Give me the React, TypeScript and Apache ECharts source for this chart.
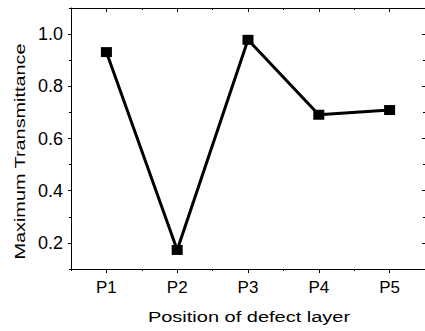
import React, { useEffect, useRef } from "react";
import * as echarts from "echarts";

const categories = ["P1", "P2", "P3", "P4", "P5"];
const transmittance = [0.931, 0.173, 0.978, 0.691, 0.709];
const yMajorTicks = [0.2, 0.4, 0.6, 0.8, 1.0];
const yMinorTicks = [0.1, 0.3, 0.5, 0.7, 0.9, 1.1];
const xTitle = "Position of defect layer";
const yTitle = "Maximum Transmittance";

const FONT = "'Liberation Sans', Arial, sans-serif";
const INK = "#000";

export default function App() {
  const ref = useRef<HTMLDivElement>(null);

  useEffect(() => {
    if (!ref.current) return;
    const chart = echarts.init(ref.current, undefined, { renderer: "svg" });

    const hidden = { show: false };
    const catAxis = (extra: any) => ({
      type: "category",
      data: categories,
      boundaryGap: true,
      splitLine: hidden,
      axisLabel: hidden,
      axisLine: { show: false, lineStyle: { color: INK, width: 1 } },
      ...extra,
    });
    const valAxis = (extra: any) => ({
      type: "value",
      min: 0.1,
      max: 1.1,
      splitLine: hidden,
      axisLabel: hidden,
      axisLine: { show: false, lineStyle: { color: INK, width: 1 } },
      ...extra,
    });

    chart.setOption({
      animation: false,
      backgroundColor: "#fff",
      grid: { left: 71, right: -1, top: 8, bottom: 62, containLabel: false },
      xAxis: [
        catAxis({
          position: "bottom",
          axisLine: { show: true, onZero: false, lineStyle: { color: INK, width: 1 } },
          axisTick: { show: true, alignWithLabel: true, length: 4, lineStyle: { color: INK } },
          axisLabel: { show: true, color: INK, fontSize: 17, fontFamily: FONT, margin: 10 },
        }),
        catAxis({
          position: "bottom",
          axisTick: { show: true, length: 2, lineStyle: { color: INK } },
        }),
        catAxis({
          position: "top",
          axisLine: { show: true, onZero: false, lineStyle: { color: INK, width: 1 } },
          axisTick: { show: true, inside: true, alignWithLabel: true, length: 4, lineStyle: { color: INK } },
        }),
        catAxis({
          position: "top",
          axisTick: { show: true, inside: true, length: 2, lineStyle: { color: INK } },
        }),
      ],
      yAxis: [
        valAxis({
          position: "left",
          axisLine: { show: true, onZero: false, lineStyle: { color: INK, width: 1 } },
          axisTick: { show: true, length: 3, customValues: yMajorTicks, lineStyle: { color: INK } },
          axisLabel: {
            show: true,
            customValues: yMajorTicks,
            color: INK,
            fontSize: 18,
            fontFamily: FONT,
            margin: 8,
            formatter: (v: number) => v.toFixed(1),
          },
        }),
        valAxis({
          position: "left",
          axisTick: { show: true, length: 2, customValues: yMinorTicks, lineStyle: { color: INK } },
        }),
        valAxis({
          position: "right",
          axisLine: { show: true, onZero: false, lineStyle: { color: INK, width: 1 } },
          axisTick: { show: true, inside: true, length: 3, customValues: yMajorTicks, lineStyle: { color: INK } },
        }),
        valAxis({
          position: "right",
          axisTick: { show: true, inside: true, length: 2, customValues: yMinorTicks, lineStyle: { color: INK } },
        }),
      ],
      graphic: [
        {
          type: "text",
          x: 249,
          y: 317,
          scaleX: 1.29,
          style: {
            text: xTitle,
            fill: INK,
            font: `15.5px ${FONT}`,
            align: "center",
            verticalAlign: "middle",
          },
        },
        {
          type: "text",
          x: 19.5,
          y: 151.5,
          rotation: Math.PI / 2,
          scaleX: 1.28,
          style: {
            text: yTitle,
            fill: INK,
            font: `15.5px ${FONT}`,
            align: "center",
            verticalAlign: "middle",
          },
        },
      ],
      series: [
        {
          type: "line",
          xAxisIndex: 0,
          yAxisIndex: 0,
          data: transmittance,
          symbol: "rect",
          symbolSize: [11, 10],
          lineStyle: { color: INK, width: 3 },
          itemStyle: { color: INK },
          z: 5,
        },
      ],
    });

    return () => chart.dispose();
  }, []);

  return (
    <div
      ref={ref}
      style={{ position: "absolute", left: 0, top: 0, width: 425, height: 331 }}
    />
  );
}
